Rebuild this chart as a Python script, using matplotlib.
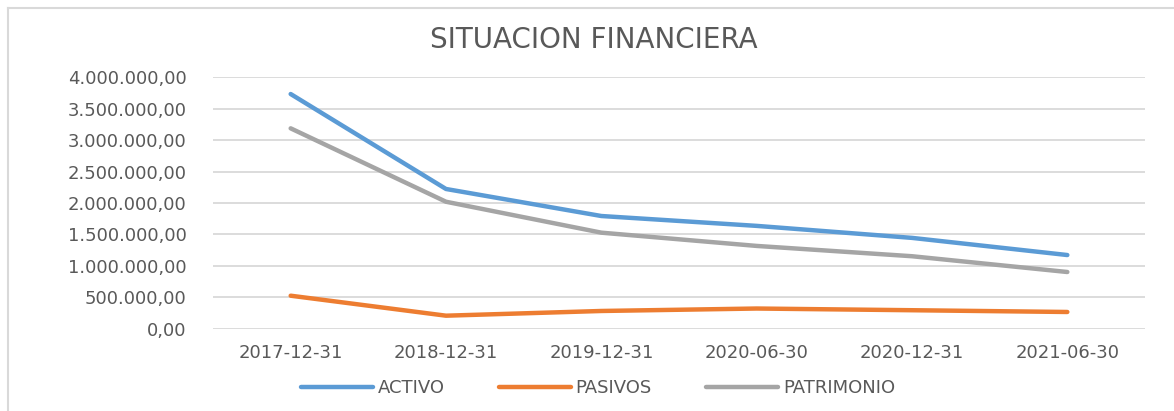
import matplotlib
matplotlib.use("Agg")
import matplotlib.pyplot as plt
from matplotlib.lines import Line2D
from matplotlib.ticker import FuncFormatter

fechas = ['2017-12-31', '2018-12-31', '2019-12-31', '2020-06-30', '2020-12-31', '2021-06-30']
activo = [3734000, 2223000, 1793000, 1636000, 1445000, 1172000]
pasivos = [525000, 207000, 282000, 321000, 294000, 266000]
patrimonio = [3188000, 2020000, 1528000, 1317000, 1153000, 902000]

W, H = 1174, 411
fig = plt.figure(figsize=(W / 100, H / 100), dpi=100)
plt.rcParams['font.family'] = ['DejaVu Sans']

ax = fig.add_axes([213 / W, 1 - 328.7 / H, (1145 - 213) / W, (328.7 - 77.3) / H])

x = list(range(len(fechas)))
ax.plot(x, activo, color='#5B9BD5', lw=3.2, solid_capstyle='round', label='ACTIVO')
ax.plot(x, pasivos, color='#ED7D31', lw=3.2, solid_capstyle='round', label='PASIVOS')
ax.plot(x, patrimonio, color='#A5A5A5', lw=3.2, solid_capstyle='round', label='PATRIMONIO')

ax.set_xlim(-0.5, len(fechas) - 0.5)
ax.set_ylim(0, 4000000)
ax.set_yticks(range(0, 4000001, 500000))
ax.yaxis.set_major_formatter(FuncFormatter(
    lambda v, p: f"{v:,.2f}".replace(',', 'X').replace('.', ',').replace('X', '.')))
ax.set_xticks(x)
ax.set_xticklabels(fechas)
ax.grid(axis='y', color='#D9D9D9', lw=1.3)
ax.set_axisbelow(True)
for s in ax.spines.values():
    s.set_visible(False)
ax.tick_params(axis='both', length=0, labelsize=13, labelcolor='#595959')
ax.tick_params(axis='y', pad=19)
ax.tick_params(axis='x', pad=11)

fig.text(593.5 / W, 1 - 40 / H, 'SITUACION FINANCIERA', ha='center', va='center',
         fontsize=20, color='#595959')

fig.legend(loc='center', bbox_to_anchor=(598 / W, 1 - 388 / H), ncol=3, frameon=False,
           fontsize=13, handlelength=4.0, handletextpad=0.25, columnspacing=3.0,
           labelcolor='#595959')

# chart border (partially cropped in reference)
fig.add_artist(Line2D([7.5 / W, 1], [1 - 8 / H, 1 - 8 / H], color='#D9D9D9', lw=1.5,
                      transform=fig.transFigure))
fig.add_artist(Line2D([7.5 / W, 7.5 / W], [0, 1 - 8 / H], color='#D9D9D9', lw=1.5,
                      transform=fig.transFigure))

fig.savefig('out.png', dpi=100)
